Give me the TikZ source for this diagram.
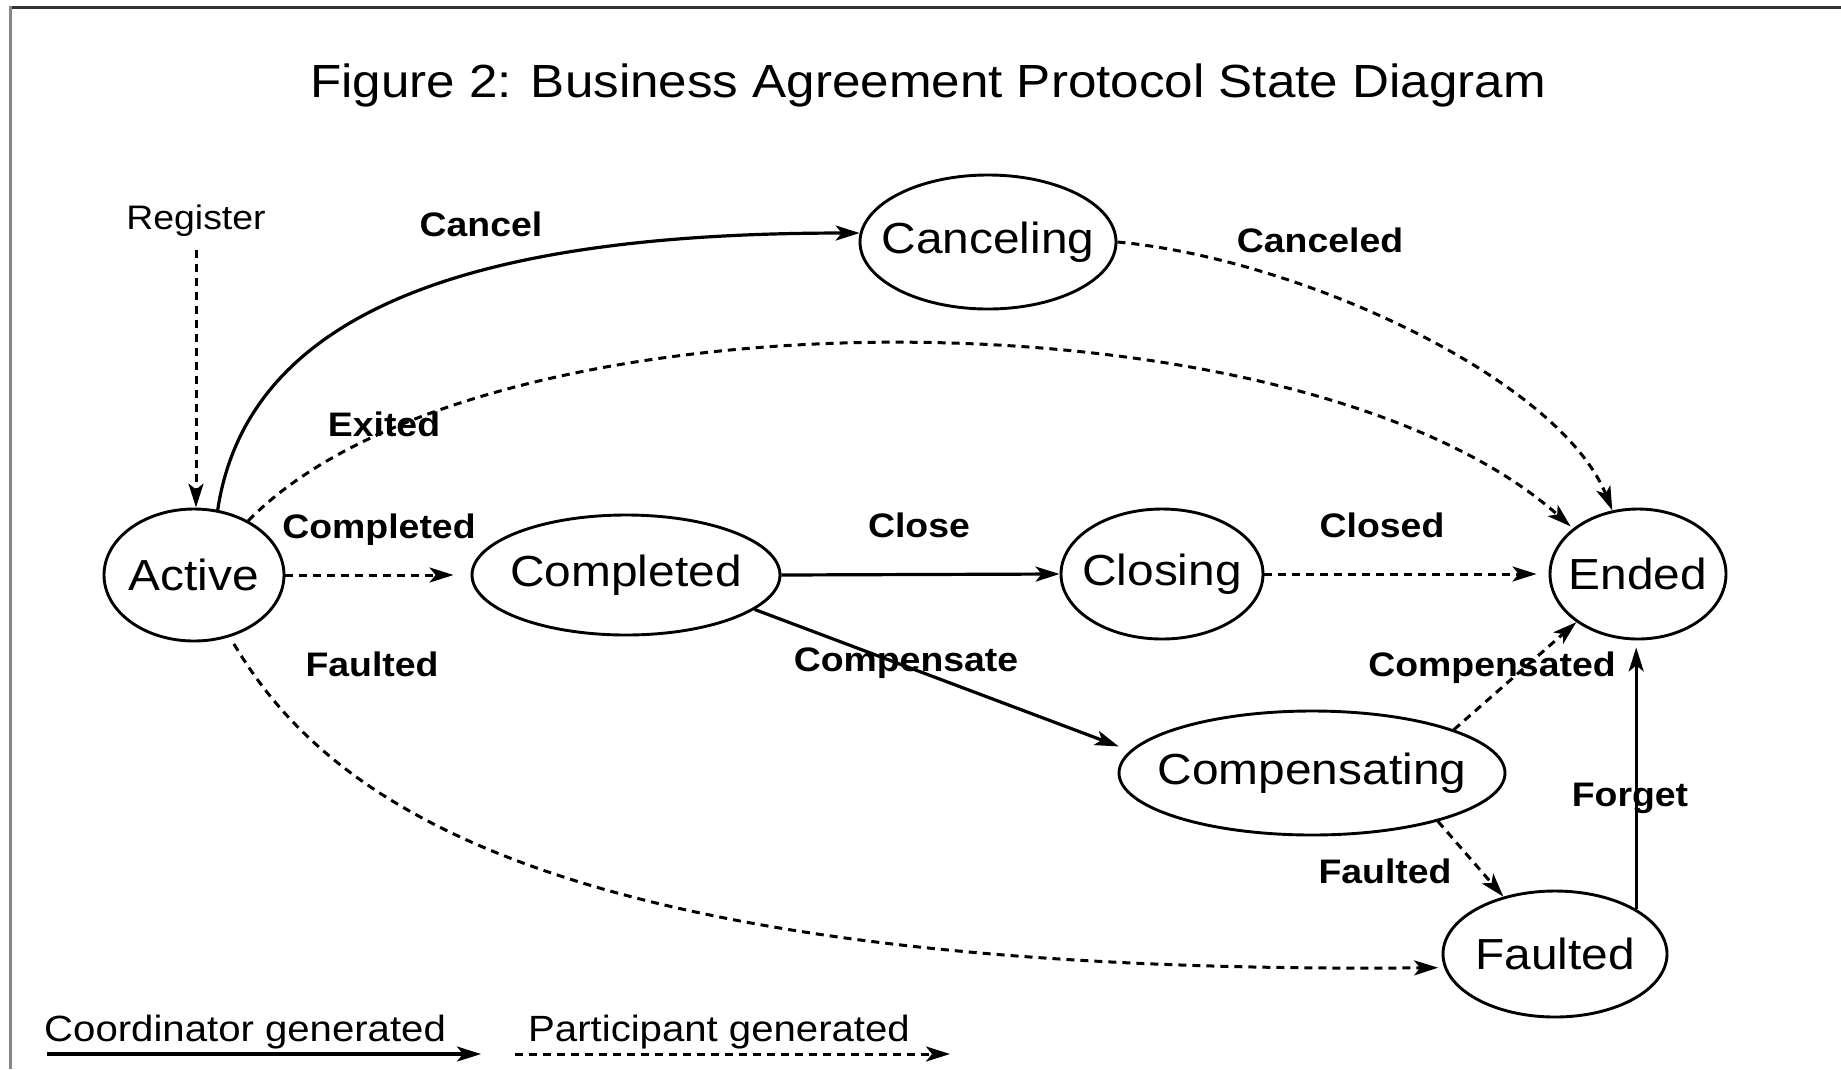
\documentclass[tikz,border=0pt]{standalone}
\usepackage{fontspec}
\setmainfont{Liberation Sans}[FakeStretch=1.1]
\usetikzlibrary{arrows.meta,shapes.geometric}
\begin{document}
\begin{tikzpicture}[x=1pt,y=-1pt,
  state/.style={draw=black,line width=2.9pt,ellipse,inner sep=0pt,
    font=\fontsize{43.5}{50}\selectfont},
  lbl/.style={anchor=base,inner sep=0pt,font=\bfseries\fontsize{34}{40}\selectfont},
  tip/.style={-{Stealth[length=24pt,width=15pt,inset=6pt]}},
  coord/.style={tip,line width=3.2pt},
  part/.style={tip,line width=3pt,dash pattern=on 8pt off 6pt}]
\useasboundingbox (0,0) rectangle (1841,1069);
\fill[white] (0,0) rectangle (1841,1069);
% frame
\fill[black!80] (9,6) rectangle (1841,9);
\fill[black!47] (9,6) rectangle (12,1069);
% title
\node[anchor=base,inner sep=0pt,font=\fontsize{46.5}{54}\selectfont] (title) at (928,97)
  {Figure 2: Business Agreement Protocol State Diagram};
% states
\node[state,minimum width=180pt,minimum height=132pt] (Active) at (194,575) {\makebox[0pt]{Active}};
\node[state,minimum width=308pt,minimum height=120pt] (Completed) at (626,575) {\makebox[0pt]{Completed}};
\node[state,minimum width=202pt,minimum height=130pt] (Closing) at (1162,574) {\makebox[0pt]{Closing}};
\node[state,minimum width=176pt,minimum height=130pt] (Ended) at (1638,574) {\makebox[0pt]{Ended}};
\node[state,minimum width=256pt,minimum height=134pt] (Canceling) at (988,242) {\makebox[0pt]{Canceling}};
\node[state,minimum width=386pt,minimum height=124pt] (Compensating) at (1312,773) {\makebox[0pt]{Compensating}};
\node[state,minimum width=224pt,minimum height=126pt] (Faulted) at (1555,954) {\makebox[0pt]{Faulted}};
% register
\node[anchor=base,inner sep=0pt,font=\fontsize{34}{40}\selectfont] (Register) at (196,229) {Register};
\draw[part,shorten <=14pt] (Register.south) -- (Register.south |- Active.north);
% transitions
\draw[coord] (Active.70) .. controls +(32,-211) and +(-360,0) .. (Canceling.176);
\draw[part] (Canceling.east) .. controls +(184,17) and +(-53,-131) .. (Ended.112);
\draw[part,shorten >=3pt] (Active.45) .. controls +(233,-238) and +(-274,-244) .. (Ended.145);
\draw[part,shorten >=17pt] (Active.east) -- (Completed.west);
\draw[coord] (Completed.east) -- (Closing.west);
\draw[part,shorten >=12pt] (Closing.east) -- (Ended.west);
\draw[coord,shorten >=12pt] (Completed.-15) -- (Compensating.173);
\draw[part] (Compensating.17) -- (Ended.218);
\draw[part] (Compensating.-21) -- (Faulted.132);
\draw[part,shorten <=8pt,shorten >=6pt] (Active.-60) .. controls +(101,170) and +(-880,8) .. (Faulted.187);
\draw[coord,shorten >=7pt] (Faulted.29) -- (Faulted.29 |- Ended.south);
% labels
\node[lbl] (lCancel) at (481,236) {Cancel};
\node[lbl] (lCanceled) at (1320,252) {Canceled};
\node[lbl] (lExited) at (384,436) {Exited};
\node[lbl] (lCompleted) at (379,538) {Completed};
\node[lbl] (lFaultedA) at (372,676) {Faulted};
\node[lbl] (lClose) at (919,537) {Close};
\node[lbl] (lClosed) at (1382,537) {Closed};
\node[lbl] (lCompensate) at (906,671) {Compensate};
\node[lbl] (lCompensated) at (1492,676) {Compensated};
\node[lbl] (lForget) at (1630,806) {Forget};
\node[lbl] (lFaultedB) at (1385,883) {Faulted};
% legend
\node[anchor=base west,inner sep=0pt,font=\fontsize{36.5}{42}\selectfont] (legC) at (44,1041) {Coordinator generated};
\node[anchor=base west,inner sep=0pt,font=\fontsize{36.5}{42}\selectfont] (legP) at (528,1041) {Participant generated};
\coordinate (la1) at (47,1054);
\coordinate (la2) at (481,1054);
\coordinate (lb1) at (515,1054);
\coordinate (lb2) at (950,1054);
\draw[coord] (la1) -- (la2);
\draw[part] (lb1) -- (lb2);
\end{tikzpicture}
\end{document}
